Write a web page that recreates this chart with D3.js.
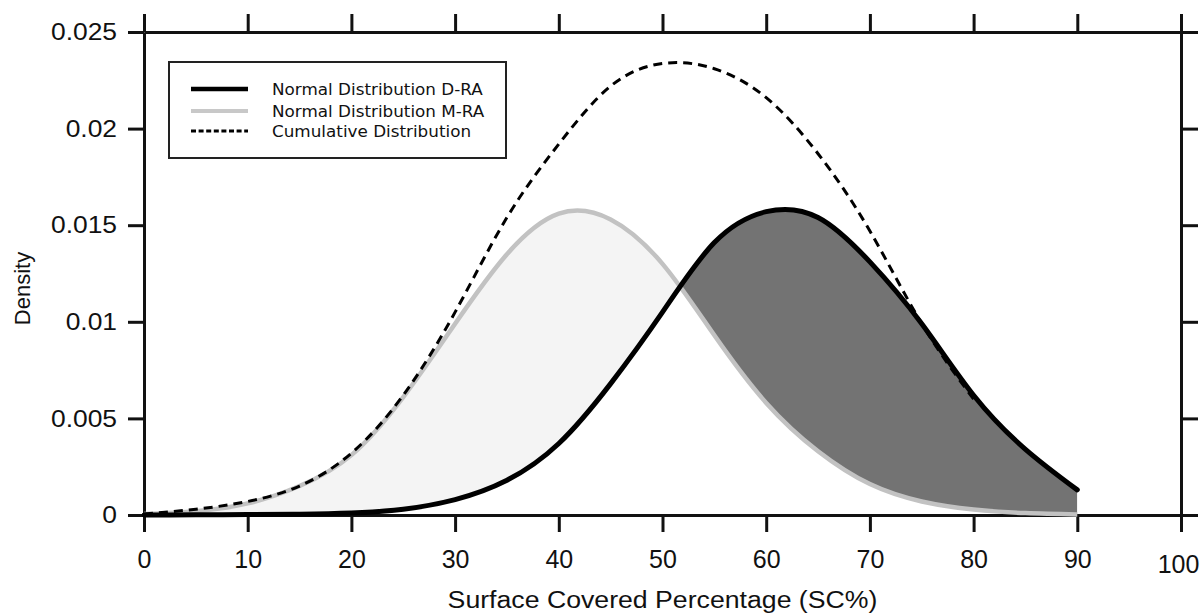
<!DOCTYPE html>
<html>
<head>
<meta charset="utf-8">
<script src="https://cdn.jsdelivr.net/npm/d3@7"></script>
<style>
  body { margin: 0; background: #fff; }
  svg { display: block; }
</style>
</head>
<body>
<div id="chart"></div>
<script>
"use strict";

// values (x = SC%, y = density)
const xs = [0, 5, 10, 15, 20, 25, 30, 35, 40, 45, 50, 55, 60, 65, 70, 75, 80, 85, 90];
const draValues = [0, 0.00001, 0.00002, 0.00004, 0.0001, 0.0003, 0.0008, 0.0018, 0.0037, 0.0068,
  0.0105, 0.0141, 0.0157, 0.0154, 0.0131, 0.0099, 0.0062, 0.0034, 0.0013];
const mraValues = [0.00005, 0.0002, 0.0006, 0.0015, 0.0031, 0.0061, 0.0099, 0.0135, 0.0156, 0.0153,
  0.0130, 0.0093, 0.0058, 0.0033, 0.0016, 0.0007, 0.00028, 0.0001, 0.00003];
const cumXs = [0, 5, 10, 15, 20, 25, 30, 35, 40, 45, 50, 55, 60, 65, 70, 75, 80];
const cumValues = [0.00005, 0.0003, 0.0007, 0.0015, 0.0032, 0.0062, 0.0105, 0.0154, 0.0192, 0.0222,
  0.02337, 0.0231, 0.0216, 0.0187, 0.0147, 0.0099, 0.0060];
const crossX = 51.8;

const xTicks = [0, 10, 20, 30, 40, 50, 60, 70, 80, 90, 100];
const xTickLabels = ["0", "10", "20", "30", "40", "50", "60", "70", "80", "90", "100"];
const yTicks = [0, 0.005, 0.01, 0.015, 0.02, 0.025];
const yTickLabels = ["0", "0.005", "0.01", "0.015", "0.02", "0.025"];
const legendLabels = ["Normal Distribution D-RA", "Normal Distribution M-RA", "Cumulative Distribution"];

const width = 1202, height = 615;
const margin = {top: 32, right: 21, bottom: 100, left: 144};

const svg = d3.select("#chart").append("svg")
  .attr("width", width)
  .attr("height", height);

const x = d3.scaleLinear().domain([0, 100]).range([margin.left, width - margin.right]);
const y = d3.scaleLinear().domain([0, 0.025]).range([height - margin.bottom, margin.top]);

const pairs = xs.map((v, i) => ({x: v, dra: draValues[i], mra: mraValues[i]}));
const cum = cumXs.map((v, i) => ({x: v, y: cumValues[i]}));

const curve = d3.curveNatural;

// clip areas either side of the crossing point
const defs = svg.append("defs");
defs.append("clipPath").attr("id", "leftClip").append("rect")
  .attr("x", x(0)).attr("y", 0).attr("width", x(crossX) - x(0)).attr("height", height);
defs.append("clipPath").attr("id", "rightClip").append("rect")
  .attr("x", x(crossX)).attr("y", 0).attr("width", x(90) - x(crossX)).attr("height", height);

const between = d3.area()
  .x(d => x(d.x))
  .y0(d => y(d.dra))
  .y1(d => y(d.mra))
  .curve(curve);

svg.append("path")
  .datum(pairs)
  .attr("d", between)
  .attr("fill", "#f4f4f4")
  .attr("clip-path", "url(#leftClip)");

svg.append("path")
  .datum(pairs)
  .attr("d", between)
  .attr("fill", "#737373")
  .attr("clip-path", "url(#rightClip)");

// axes (box with outward ticks on all four sides)
const axisStyle = g => {
  g.select(".domain").attr("stroke", "#111").attr("stroke-width", 3);
  g.selectAll(".tick line").attr("stroke", "#111").attr("stroke-width", 3);
  g.selectAll(".tick text").attr("fill", "#111").attr("font-family", "'Liberation Sans', Arial, sans-serif");
};

svg.append("g")
  .attr("transform", `translate(0,${y(0)})`)
  .call(d3.axisBottom(x).tickValues(xTicks).tickSize(17).tickSizeOuter(0).tickPadding(18)
    .tickFormat((d, i) => xTickLabels[i]))
  .call(axisStyle)
  .call(g => g.selectAll(".tick text").attr("font-size", 25))
  .call(g => g.selectAll(".tick text").filter((d, i) => i === xTicks.length - 1)
    .attr("dx", -3).attr("y", 40));

svg.append("g")
  .attr("transform", `translate(0,${y(0.025)})`)
  .call(d3.axisTop(x).tickValues(xTicks).tickSize(18).tickSizeOuter(0).tickFormat(""))
  .call(axisStyle);

svg.append("g")
  .attr("transform", `translate(${x(0)},0)`)
  .call(d3.axisLeft(y).tickValues(yTicks).tickSize(16).tickSizeOuter(0)
    .tickFormat((d, i) => yTickLabels[i]))
  .call(axisStyle)
  .call(g => g.selectAll(".tick text")
    .attr("font-size", 24)
    .attr("x", -27 / 1.1)
    .attr("transform", "scale(1.1,1)"));

svg.append("g")
  .attr("transform", `translate(${x(100)},0)`)
  .call(d3.axisRight(y).tickValues(yTicks).tickSize(17).tickSizeOuter(0).tickFormat(""))
  .call(axisStyle);

// curves
svg.append("path")
  .datum(pairs)
  .attr("fill", "none")
  .attr("stroke", "#c2c2c2")
  .attr("stroke-width", 4.5)
  .attr("d", d3.line().x(d => x(d.x)).y(d => y(d.mra)).curve(curve));

svg.append("path")
  .datum(pairs)
  .attr("fill", "none")
  .attr("stroke", "#000")
  .attr("stroke-width", 5)
  .attr("stroke-linecap", "round")
  .attr("d", d3.line().x(d => x(d.x)).y(d => y(d.dra)).curve(curve));

svg.append("path")
  .datum(cum)
  .attr("fill", "none")
  .attr("stroke", "#000")
  .attr("stroke-width", 3)
  .attr("stroke-dasharray", "9,6")
  .attr("d", d3.line().x(d => x(d.x)).y(d => y(d.y)).curve(curve));

// legend
const legend = svg.append("g");
legend.append("rect")
  .attr("x", 169).attr("y", 62).attr("width", 337).attr("height", 96)
  .attr("fill", "#fff").attr("stroke", "#222").attr("stroke-width", 2);

const legendRows = [
  {y: 89, stroke: "#000", width: 4.5, dash: null},
  {y: 111, stroke: "#c8c8c8", width: 4, dash: null},
  {y: 131, stroke: "#000", width: 3, dash: "5,2.6"}
];
legendRows.forEach((r, i) => {
  legend.append("line")
    .attr("x1", 191).attr("x2", 248).attr("y1", r.y).attr("y2", r.y)
    .attr("stroke", r.stroke).attr("stroke-width", r.width)
    .attr("stroke-dasharray", r.dash);
  legend.append("text")
    .attr("transform", `translate(272,${r.y + 5.5}) scale(1.05,1)`)
    .attr("font-family", "'DejaVu Sans', sans-serif")
    .attr("font-size", 16)
    .attr("fill", "#111")
    .text(legendLabels[i]);
});

// axis titles
svg.append("text")
  .attr("transform", `translate(${x(50)},608) scale(1.16,1)`)
  .attr("text-anchor", "middle")
  .attr("font-family", "'Liberation Sans', Arial, sans-serif")
  .attr("font-size", 23)
  .attr("fill", "#111")
  .text("Surface Covered Percentage (SC%)");

svg.append("text")
  .attr("transform", `translate(30,${(y(0) + y(0.025)) / 2 + 15}) rotate(-90)`)
  .attr("text-anchor", "middle")
  .attr("font-family", "'Liberation Sans', Arial, sans-serif")
  .attr("font-size", 22)
  .attr("fill", "#111")
  .text("Density");
</script>
</body>
</html>
